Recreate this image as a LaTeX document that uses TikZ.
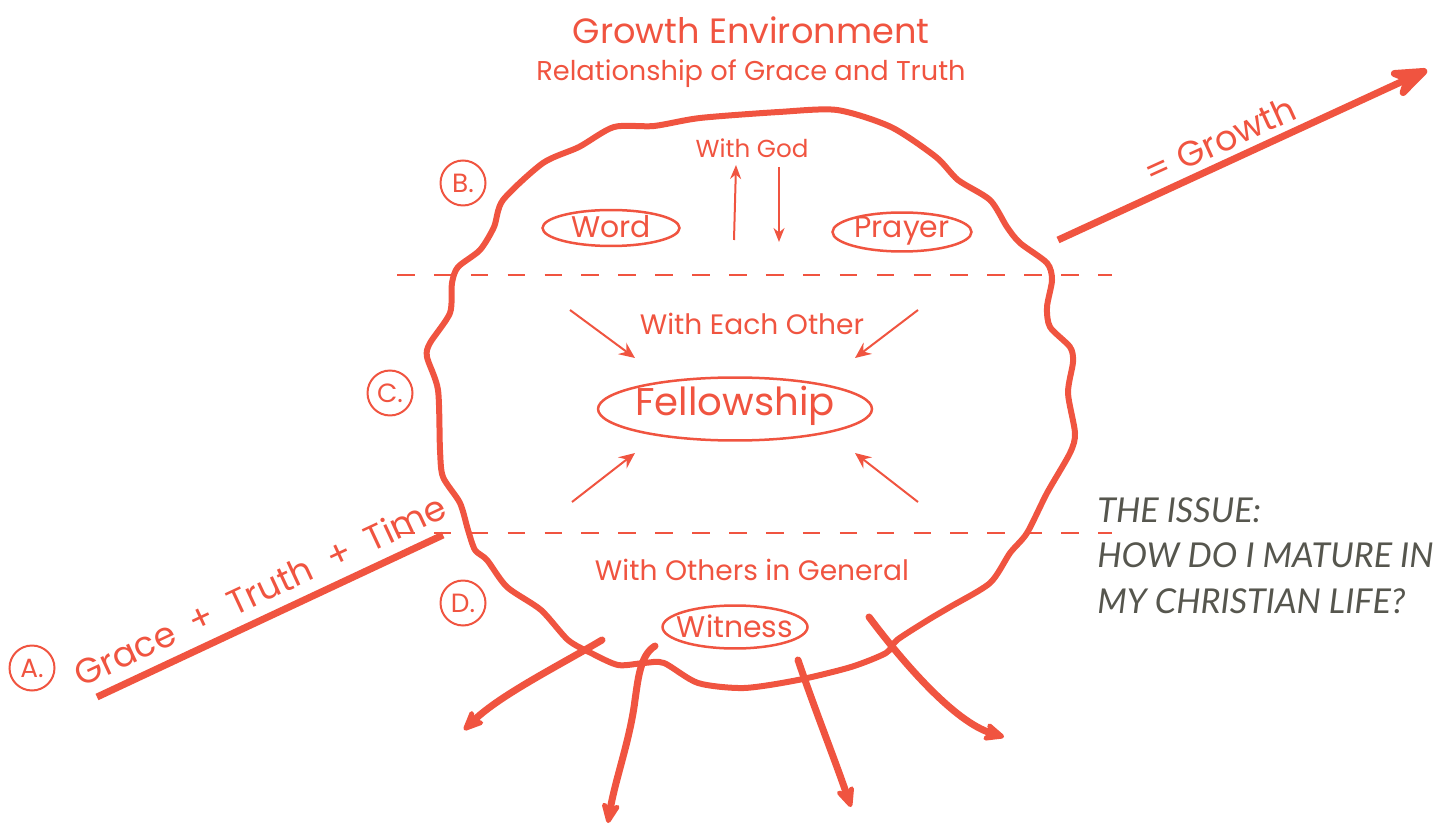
\documentclass[tikz,border=0pt]{standalone}
\usepackage{fontspec}
\newfontfamily\handfont{Poppins}
\newfontfamily\issuefont{Lato}
\usetikzlibrary{arrows.meta}
\definecolor{inkred}{RGB}{240,84,64}
\definecolor{issuegrey}{RGB}{86,86,78}

\begin{document}
\begin{tikzpicture}[x=0.02cm, y=-0.02cm,
	hand/.style={text=inkred, font=\handfont\fontsize{#1}{#1}\selectfont},
	bubble/.style={draw=inkred, line width=0.5mm},
	tag/.style={draw=inkred, line width=0.4mm, circle, minimum size=0.9cm, inner sep=0pt, text=inkred, font=\handfont\fontsize{15}{15}\selectfont},
	divider/.style={draw=inkred, line width=0.3mm, dash pattern=on 10pt off 11pt},
	thinarrow/.style={draw=inkred, line width=0.4mm, -{Stealth[length=3.2mm, width=2.8mm, inset=1.1mm]}},
	fatarrow/.style={draw=inkred, line width=1.4mm, line cap=round, -{Stealth[length=5.5mm, width=4.8mm, inset=1.8mm, round]}},
	issue/.style={text=issuegrey, font=\issuefont\itshape\fontsize{19.5}{19.5}\selectfont, anchor=base west, inner sep=0pt}]
			%%%%% START %%%%%
			\useasboundingbox (0, 0) rectangle (1454, 827);
			
			\node[hand=20] (title) at (751, 30) {Growth Environment};
			\node[hand=15.5] (subtitle) at (751, 74) {Relationship of Grace and Truth};
			
			% the wavy boundary
			\draw[inkred, line width=1.2mm] plot[smooth cycle, tension=0.45] coordinates {
				(458, 267) (480, 250) (494, 227) (503, 200) (543, 163) (579, 147) (614, 127) (654, 126)
				(700, 118) (779, 112) (837, 110) (891, 127) (936, 157) (958, 180) (990, 200) (1007, 227)
				(1020, 243) (1047, 263) (1052, 280) (1047, 307) (1050, 327) (1070, 347) (1073, 362)
				(1068, 393) (1075, 433) (1070, 453) (1047, 493) (1027, 533) (1010, 553) (990, 583)
				(950, 607) (928, 620) (897, 640) (886, 653) (851, 667) (798, 680) (744, 688) (698, 683)
				(664, 663) (644, 663) (618, 665) (591, 653) (568, 640) (541, 610) (507, 587) (487, 560)
				(475, 550) (468, 530) (460, 503) (443, 477) (440, 450) (438, 390) (427, 357) (430, 343)
				(450, 313) (452, 283)};
			
			\draw[divider] (397, 275) -- (1112, 275);
			\draw[divider] (397, 533) -- (1112, 533);
			
			% with God
			\node[hand=14] (god) at (752, 148) {With God};
			\node[hand=17] (word) at (611, 227) {Word};
			\draw[bubble] (611, 228) ellipse [x radius=1.37cm, y radius=0.36cm];
			\node[hand=17] (prayer) at (902, 231) {Prayer};
			\draw[bubble] (902, 232) ellipse [x radius=1.39cm, y radius=0.39cm];
			\coordinate (upfoot) at (734, 240);
			\coordinate (uptop) at (736, 165);
			\coordinate (downtop) at (779, 167);
			\coordinate (downfoot) at (779, 242);
			\draw[draw=inkred, line width=0.4mm, -{Stealth[length=2.8mm, width=2.2mm, inset=0.9mm]}] (upfoot) -- (uptop);
			\draw[draw=inkred, line width=0.4mm, -{Stealth[length=2.8mm, width=2.2mm, inset=0.9mm]}] (downtop) -- (downfoot);
			
			% with each other
			\node[hand=16] (other) at (752, 324) {With Each Other};
			\node[hand=22] (fellow) at (735, 406) {Fellowship};
			\draw[bubble] (735, 409) ellipse [x radius=2.74cm, y radius=0.63cm];
			\coordinate (nw) at (570, 310);
			\coordinate (ne) at (918, 310);
			\coordinate (sw) at (572, 502);
			\coordinate (se) at (918, 502);
			\draw[thinarrow] (nw) -- (635, 358);
			\draw[thinarrow] (ne) -- (855, 358);
			\draw[thinarrow] (sw) -- (635, 453);
			\draw[thinarrow] (se) -- (855, 453);
			
			% with others in general
			\node[hand=16] (general) at (752, 570) {With Others in General};
			\node[hand=17] (witness) at (735, 626) {Witness};
			\draw[bubble] (735, 627) ellipse [x radius=1.45cm, y radius=0.43cm];
			\draw[fatarrow] (602, 640) .. controls (560, 665) and (500, 695) .. (464, 730);
			\draw[fatarrow] (655, 646) .. controls (640, 655) and (638, 680) .. (635, 700) .. controls (630, 740) and (615, 780) .. (608, 823);
			\draw[fatarrow] (798, 660) .. controls (815, 710) and (835, 760) .. (851, 807);
			\draw[fatarrow] (869, 617) .. controls (905, 665) and (955, 722) .. (1004, 737);
			
			% labels
			\node[tag] (tagA) at (32, 668) {A.};
			\node[tag] (tagB) at (463, 183) {B.};
			\node[tag] (tagC) at (390, 393) {C.};
			\node[tag] (tagD) at (463, 603) {D.};
			
			% grace + truth + time
			\coordinate (gracefoot) at (97, 697);
			\coordinate (gracehead) at (443, 535);
			\draw[inkred, line width=1.4mm] (gracefoot) -- (gracehead);
			\node[hand=20, rotate=25] (grace) at (260, 590) {Grace \ + \ Truth \ + \ Time};
			
			% growth
			\coordinate (growthfoot) at (1058, 240);
			\coordinate (growthhead) at (1427, 70);
			\draw[draw=inkred, line width=1.4mm, -{Stealth[length=10mm, width=7.5mm, inset=3.5mm, round]}] (growthfoot) -- (growthhead);
			\node[hand=20, rotate=24.5] (growth) at (1220, 140) {= Growth};
			
			% the issue
			\node[issue] (issueA) at (1097, 522) {THE ISSUE:};
			\node[issue] (issueB) at (1097, 567) {HOW DO I MATURE IN};
			\node[issue] (issueC) at (1097, 613) {MY CHRISTIAN LIFE?};
			%%%%% END %%%%%
\end{tikzpicture}
\end{document}
